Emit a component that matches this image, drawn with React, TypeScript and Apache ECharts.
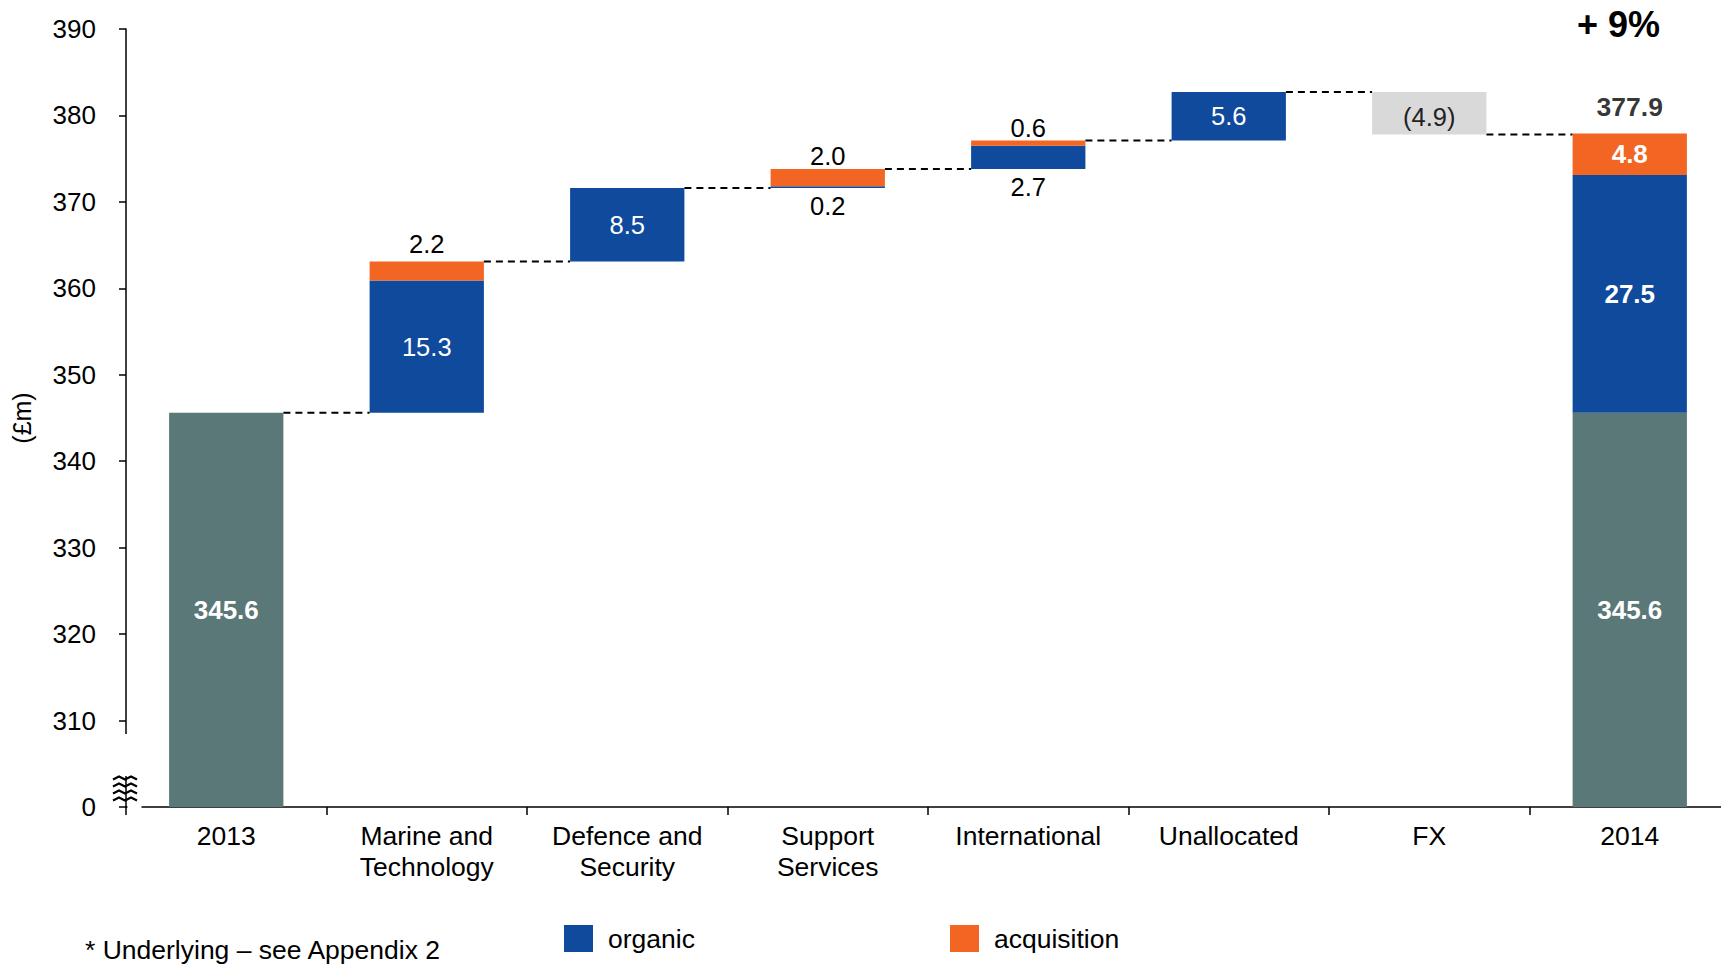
import React, { useEffect, useRef } from "react";
import * as echarts from "echarts";

const categories = [
  "2013",
  "Marine and\nTechnology",
  "Defence and\nSecurity",
  "Support\nServices",
  "International",
  "Unallocated",
  "FX",
  "2014",
];
const baseValues: (number | null)[] = [345.6, null, null, null, null, null, null, 345.6];
const organicValues: (number | null)[] = [null, 15.3, 8.5, 0.2, 2.7, 5.6, null, 27.5];
const acquisitionValues: (number | null)[] = [null, 2.2, null, 2.0, 0.6, null, null, 4.8];
const fxValues: (number | null)[] = [null, null, null, null, null, null, -4.9, null];
const totalValues: (number | null)[] = [null, null, null, null, null, null, null, 377.9];
const growthLabel = "+ 9%";
const footnote = "* Underlying \u2013 see Appendix 2";

const FONT = '"Liberation Sans", Arial, sans-serif';
const TEAL = "#5b7878";
const BLUE = "#0f4a9c";
const ORANGE = "#f26522";
const LIGHT = "#d9d9d9";
const BAR_W = 0.57;

const fmt1 = (p: any) => Number(p.value).toFixed(1);

export default function App() {
  const ref = useRef<HTMLDivElement>(null);
  useEffect(() => {
    document.body.style.margin = "0";
    if (!ref.current) return;
    const chart = echarts.init(ref.current, null, { renderer: "svg" });

    // running totals for waterfall offsets
    const offsets: number[] = [];
    const levels: number[] = [];
    let run = 0;
    categories.forEach((_, i) => {
      const b = baseValues[i];
      const f = fxValues[i];
      if (b != null) {
        offsets.push(0);
        run = b + (organicValues[i] || 0) + (acquisitionValues[i] || 0);
      } else if (f != null) {
        run += f;
        offsets.push(run);
      } else {
        offsets.push(run);
        run += (organicValues[i] || 0) + (acquisitionValues[i] || 0);
      }
      levels.push(run);
    });
    const connectors = levels.slice(0, levels.length - 1).map((v, i) => [i, v]);

    const lastIdx = categories.length - 1;
    const insideWhite = (bold: boolean) => ({
      show: true,
      position: "inside",
      color: "#fff",
      fontSize: bold ? 26 : 25.5,
      fontFamily: FONT,
      fontWeight: bold ? "bold" : "normal",
      formatter: fmt1,
    });
    const outsideBlack = (pos: string, dist: number) => ({
      show: true,
      position: pos,
      distance: dist,
      color: "#000",
      fontSize: 25.5,
      fontFamily: FONT,
      formatter: fmt1,
    });

    const organicData = organicValues.map((v, i) => {
      if (v == null) return "-";
      const smallBar = v < 3;
      return {
        value: v,
        label: smallBar ? outsideBlack("bottom", 5) : insideWhite(i === lastIdx),
      };
    });
    const acqData = acquisitionValues.map((v, i) => {
      if (v == null) return "-";
      const stackedOnSmall = (organicValues[i] || 0) < 3;
      return {
        value: v,
        label: i === lastIdx ? insideWhite(true) : outsideBlack("top", stackedOnSmall ? 0 : 5),
      };
    });

    const common = { type: "bar", stack: "w", barWidth: BAR_W * 100 + "%" };
    const legendCommon = {
      top: 925,
      padding: 0,
      itemWidth: 29,
      itemHeight: 27,
      icon: "rect",
      selectedMode: false,
      textStyle: { fontSize: 26.5, color: "#000", fontFamily: FONT, padding: [0, 0, 0, 10] },
    };

    const option: any = {
      animation: false,
      textStyle: { fontFamily: FONT },
      grid: {
        left: 126,
        width: 1604,
        top: 29,
        bottom: 158,
        containLabel: false,
        outerBoundsMode: "none",
      },
      legend: [
        { ...legendCommon, data: ["organic"], left: 564 },
        { ...legendCommon, data: ["acquisition"], left: 950 },
      ],
      xAxis: {
        type: "category",
        data: categories,
        axisLine: { lineStyle: { color: "#000", width: 1.5 } },
        axisTick: { show: true, length: 8, lineStyle: { color: "#000", width: 1.5 } },
        axisLabel: {
          color: "#000",
          fontSize: 26.5,
          lineHeight: 31,
          fontFamily: FONT,
          margin: 13,
          interval: 0,
        },
      },
      yAxis: {
        type: "value",
        min: 300,
        max: 390,
        interval: 10,
        name: "(\u00a3m)",
        nameLocation: "middle",
        nameRotate: 90,
        nameGap: 92,
        nameTextStyle: { fontSize: 25, color: "#000", fontFamily: FONT },
        axisLine: { show: true, lineStyle: { color: "#000", width: 1.5 } },
        axisTick: { show: true, length: 7, lineStyle: { color: "#000", width: 1.5 } },
        splitLine: { show: false },
        axisLabel: {
          color: "#000",
          fontSize: 26,
          fontFamily: FONT,
          margin: 30,
          formatter: (v: number) => (v === 300 ? "0" : String(v)),
        },
      },
      series: [
        {
          ...common,
          name: "offset",
          data: offsets,
          itemStyle: { color: "transparent" },
          silent: true,
        },
        {
          ...common,
          name: "base",
          data: baseValues.map((v) => (v == null ? "-" : v)),
          itemStyle: { color: TEAL },
          label: insideWhite(true),
        },
        {
          ...common,
          name: "organic",
          data: organicData,
          itemStyle: { color: BLUE },
        },
        {
          ...common,
          name: "fx",
          data: fxValues.map((v) => (v == null ? "-" : Math.abs(v))),
          itemStyle: { color: LIGHT },
          label: {
            show: true,
            position: "inside",
            offset: [0, 4],
            color: "#222",
            fontSize: 25.5,
            fontFamily: FONT,
            formatter: (p: any) => "(" + Math.abs(p.value).toFixed(1) + ")",
          },
        },
        {
          ...common,
          name: "acquisition",
          data: acqData,
          itemStyle: { color: ORANGE },
        },
        {
          type: "scatter",
          name: "total",
          data: totalValues.map((v) => (v == null ? "-" : v)),
          symbolSize: 0,
          silent: true,
          label: {
            show: true,
            position: "top",
            distance: 13,
            color: "#000",
            fontWeight: "bold",
            fontSize: 26.5,
            fontFamily: FONT,
            formatter: fmt1,
          },
        },
        {
          type: "custom",
          name: "connectors",
          silent: true,
          z: 1,
          data: connectors,
          renderItem: (params: any, api: any) => {
            const idx = api.value(0);
            const val = api.value(1);
            const p1 = api.coord([idx, val]);
            const p2 = api.coord([idx + 1, val]);
            const band = api.size([1, 0])[0];
            const half = (band * BAR_W) / 2;
            return {
              type: "line",
              shape: { x1: p1[0] + half, y1: p1[1], x2: p2[0] - half, y2: p2[1] },
              style: { stroke: "#000", lineWidth: 2, lineDash: [7, 5] },
            };
          },
        },
      ],
      graphic: [
        {
          type: "text",
          z: 100,
          style: {
            x: 1577,
            y: 24,
            text: growthLabel,
            fontSize: 36,
            fontWeight: "bold",
            fontFamily: FONT,
            fill: "#000",
            verticalAlign: "middle",
          },
        },
        {
          type: "text",
          z: 100,
          style: {
            x: 85,
            y: 950,
            text: footnote,
            fontSize: 26.5,
            fontFamily: FONT,
            fill: "#000",
            verticalAlign: "middle",
          },
        },
        // axis break: gap in y axis line
        { type: "rect", z: 100, shape: { x: 121, y: 734, width: 10, height: 42 }, style: { fill: "#fff" } },
        // gap at start of x axis line
        { type: "rect", z: 100, shape: { x: 127.5, y: 804, width: 14, height: 5 }, style: { fill: "#fff" } },
        ...[0, 1, 2, 3].map((k) => ({
          type: "polyline",
          z: 101,
          shape: {
            points: [
              [113, 778 + k * 7 + 1.5],
              [119, 778 + k * 7 - 1.5],
              [125, 778 + k * 7 + 1.5],
              [131, 778 + k * 7 - 1.5],
              [137, 778 + k * 7 + 1.5],
            ],
          },
          style: { stroke: "#000", lineWidth: 2.2, fill: null },
        })),
      ],
    };
    chart.setOption(option);
    return () => chart.dispose();
  }, []);
  return <div ref={ref} style={{ width: 1721, height: 965 }} />;
}
